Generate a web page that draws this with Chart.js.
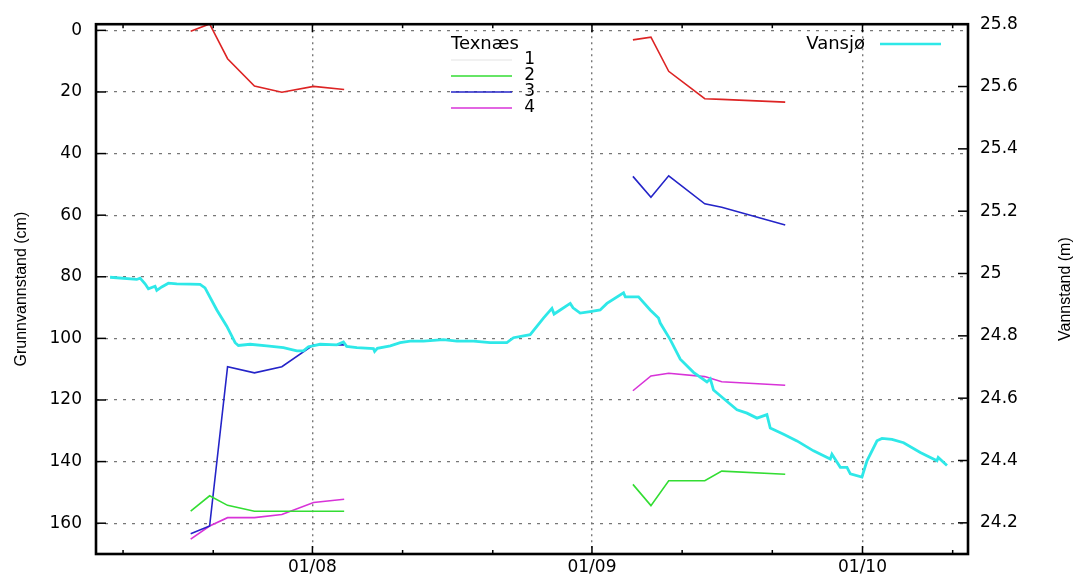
<!DOCTYPE html>
<html>
<head>
<meta charset="utf-8">
<script src="https://cdn.jsdelivr.net/npm/chart.js@4"></script>
<style>
  body { margin: 0; background: #fff; }
  canvas { display: block; }
</style>
</head>
<body>
<canvas id="myChart" width="1082" height="579"></canvas>
<script>
// days counted from 01/08 (01/09 = 31, 01/10 = 61)
var monthDays = [0, 31, 61];
var monthLabels = ["01/08", "01/09", "01/10"];
var xTickDays = [-21, -11, 0, 10, 20, 31, 41, 51, 61, 71];
var leftTicks = [0, 20, 40, 60, 80, 100, 120, 140, 160];
var rightTicks = [24.2, 24.4, 24.6, 24.8, 25, 25.2, 25.4, 25.6, 25.8];

// Texnæs groundwater wells, two measuring campaigns (null = gap)
var wellDays = [-13.5, -11.4, -9.41, -6.43, -3.39, 0.13, 3.52, 20, 35.54, 37.54, 39.51, 43.51, 45.39, 52.43];
var well1 = [0.3, -2.1, 9.2, 18.1, 20.1, 18.2, 19.2, null, 3.1, 2.2, 13.3, 22.2, 22.4, 23.3];
var well2 = [156.1, 151.1, 154.2, 156.1, 156.1, 156.1, 156.1, null, 147.4, 154.3, 146.2, 146.2, 143.1, 144.1];
var well3 = [163.4, 160.9, 109.2, 111.2, 109.2, 102.1, 102.1, null, 47.4, 54.2, 47.2, 56.3, 57.4, 63.2];
var well4 = [165.2, 160.9, 158.2, 158.2, 157.2, 153.3, 152.2, null, 117, 112.2, 111.3, 112.4, 114.1, 115.2];
var wellNames = ["1", "2", "3", "4"];

// Vansjø lake level (m)
var lakeDays = [-22.44, -19.48, -19.11, -18.56, -18.19, -17.45, -17.26, -16.71, -15.97, -15.04,
  -13.57, -12.46, -11.91, -10.6, -9.5, -8.57, -8.21, -6.91, -5.06, -3.22,
  -1.73, -1.0, -0.44, 0.04, 0.85, 2.71, 3.44, 3.8, 4.93, 6.77,
  6.9, 7.2, 8.64, 9.73, 10.84, 12.31, 14.53, 16.02, 17.86, 19.71,
  21.56, 22.3, 24.15, 25.62, 26.56, 26.8, 27.48, 28.59, 28.9, 29.69,
  30.8, 31.91, 32.66, 34.5, 34.7, 36.16, 37.46, 38.38, 38.57, 39.68,
  40.79, 42.26, 43.75, 44.12, 44.48, 45.59, 47.08, 48.19, 49.3, 50.4,
  50.77, 52.25, 53.73, 55.57, 57.43, 57.61, 58.54, 59.28, 59.65, 60.94,
  61.5, 62.61, 63.16, 64.27, 65.56, 67.41, 69.26, 69.4, 70.37];
var lakeLevel = [24.988, 24.981, 24.985, 24.967, 24.951, 24.959, 24.946, 24.957, 24.969, 24.967,
  24.966, 24.965, 24.954, 24.883, 24.831, 24.778, 24.769, 24.773, 24.768, 24.762,
  24.752, 24.752, 24.765, 24.768, 24.773, 24.771, 24.78, 24.766, 24.762, 24.759,
  24.75, 24.76, 24.768, 24.778, 24.783, 24.783, 24.788, 24.783, 24.783, 24.778,
  24.778, 24.794, 24.804, 24.857, 24.888, 24.87, 24.883, 24.904, 24.89, 24.873,
  24.878, 24.883, 24.904, 24.938, 24.925, 24.925, 24.883, 24.857, 24.841, 24.788,
  24.725, 24.683, 24.652, 24.662, 24.626, 24.599, 24.563, 24.552, 24.536, 24.547,
  24.504, 24.484, 24.463, 24.431, 24.405, 24.42, 24.378, 24.378, 24.357, 24.347,
  24.399, 24.463, 24.471, 24.468, 24.457, 24.426, 24.399, 24.41, 24.384];

var wellColors = ["#dd2424", "#33dd33", "#2424c8", "#d833d8"];
var wellLegendColors = ["#ececec", "#33dd33", "#2424c8", "#d833d8"];
var lakeColor = "#2ee8e8";
var tickFont = { family: "DejaVu Sans", size: 17 };

function pairs(xs, ys) {
  return xs.map(function (x, i) { return { x: x, y: ys[i] }; });
}

var wellSets = [well1, well2, well3, well4].map(function (vals, i) {
  return {
    label: wellNames[i],
    data: pairs(wellDays, vals),
    borderColor: wellColors[i],
    borderWidth: 1.6,
    pointRadius: 0,
    yAxisID: "yL",
    order: 1
  };
});

var lakeSet = {
  label: "Vansjø",
  data: pairs(lakeDays, lakeLevel),
  borderColor: lakeColor,
  borderWidth: 2.8,
  pointRadius: 0,
  yAxisID: "yR",
  order: 0
};

function line(ctx, x1, y1, x2, y2) {
  ctx.beginPath();
  ctx.moveTo(x1, y1);
  ctx.lineTo(x2, y2);
  ctx.stroke();
}

// frame, inward tick marks, legends and right axis title (gnuplot look)
var frame = {
  id: "frame",
  afterDatasetsDraw(chart) {
    var ctx = chart.ctx, a = chart.chartArea, s = chart.scales;
    ctx.save();
    ctx.strokeStyle = "#000";
    ctx.lineWidth = 1.5;
    leftTicks.forEach(function (v) {
      var y = s.yL.getPixelForValue(v);
      line(ctx, a.left, y, a.left + 10, y);
    });
    rightTicks.forEach(function (v) {
      var y = s.yR.getPixelForValue(v);
      line(ctx, a.right - 10, y, a.right, y);
    });
    xTickDays.forEach(function (v) {
      var x = s.x.getPixelForValue(v);
      var len = monthDays.indexOf(v) >= 0 ? 8 : 4;
      line(ctx, x, a.bottom, x, a.bottom - len);
      line(ctx, x, a.top, x, a.top + len);
    });
    ctx.lineWidth = 2.6;
    ctx.strokeRect(a.left, a.top, a.right - a.left, a.bottom - a.top);

    // Texnæs legend
    ctx.fillStyle = "#000";
    ctx.textBaseline = "middle";
    ctx.font = "18px 'DejaVu Sans'";
    ctx.textAlign = "left";
    ctx.fillText("Texnæs", 451, 44);
    ctx.font = "17px 'DejaVu Sans'";
    ctx.textAlign = "right";
    wellNames.forEach(function (n, i) {
      var y = 60 + i * 16;
      ctx.strokeStyle = wellLegendColors[i];
      ctx.lineWidth = 1.6;
      line(ctx, 451, y, 512, y);
      ctx.fillText(n, 535, y);
    });

    // Vansjø legend
    ctx.font = "18px 'DejaVu Sans'";
    ctx.fillText("Vansjø", 865, 44);
    ctx.strokeStyle = lakeColor;
    ctx.lineWidth = 2.4;
    line(ctx, 880, 44, 941, 44);

    // right axis title, reading upwards
    ctx.translate(1066, (a.top + a.bottom) / 2);
    ctx.rotate(-Math.PI / 2);
    ctx.textAlign = "center";
    ctx.font = "16px 'Liberation Sans'";
    ctx.fillText("Vannstand (m)", 0, 0);
    ctx.restore();
  }
};

var myChart = new Chart(document.getElementById("myChart"), {
  type: "line",
  data: { datasets: wellSets.concat([lakeSet]) },
  plugins: [frame],
  options: {
    responsive: false,
    animation: false,
    layout: { padding: { top: 16, left: 0, right: 0, bottom: 0 } },
    plugins: { legend: { display: false }, tooltip: { enabled: false } },
    scales: {
      x: {
        type: "linear",
        min: -24,
        max: 72.7,
        afterBuildTicks: function (scale) {
          scale.ticks = xTickDays.map(function (v) { return { value: v }; });
        },
        afterFit: function (scale) { scale.height = 25; },
        ticks: {
          autoSkip: false,
          maxRotation: 0,
          padding: 3,
          color: "#000",
          font: tickFont,
          callback: function (v) {
            var i = monthDays.indexOf(v);
            return i >= 0 ? monthLabels[i] : "";
          }
        },
        grid: {
          drawTicks: false,
          lineWidth: 1.4,
          color: function (c) {
            return c.tick && monthDays.indexOf(c.tick.value) >= 0 ? "#777" : "rgba(0,0,0,0)";
          }
        },
        border: { display: false, dash: [2, 4] }
      },
      yL: {
        type: "linear",
        position: "left",
        reverse: true,
        min: -2,
        max: 170,
        afterBuildTicks: function (scale) {
          scale.ticks = leftTicks.map(function (v) { return { value: v }; });
        },
        afterFit: function (scale) { scale.width = 96; },
        ticks: { padding: 14, color: "#000", font: tickFont },
        grid: { drawTicks: false, color: "#777", lineWidth: 1.2 },
        border: { display: false, dash: [3, 6] },
        title: {
          display: true,
          text: "Grunnvannstand (cm)",
          color: "#000",
          font: { family: "Liberation Sans", size: 16 },
          padding: { top: 12, bottom: 0 }
        }
      },
      yR: {
        type: "linear",
        position: "right",
        min: 24.1,
        max: 25.8,
        afterBuildTicks: function (scale) {
          scale.ticks = rightTicks.map(function (v) { return { value: v }; });
        },
        afterFit: function (scale) { scale.width = 114; },
        ticks: {
          padding: 12,
          color: "#000",
          font: tickFont,
          callback: function (v) { return v === 25 ? "25" : v.toFixed(1); }
        },
        grid: { drawOnChartArea: false, drawTicks: false },
        border: { display: false }
      }
    }
  }
});
</script>
</body>
</html>
